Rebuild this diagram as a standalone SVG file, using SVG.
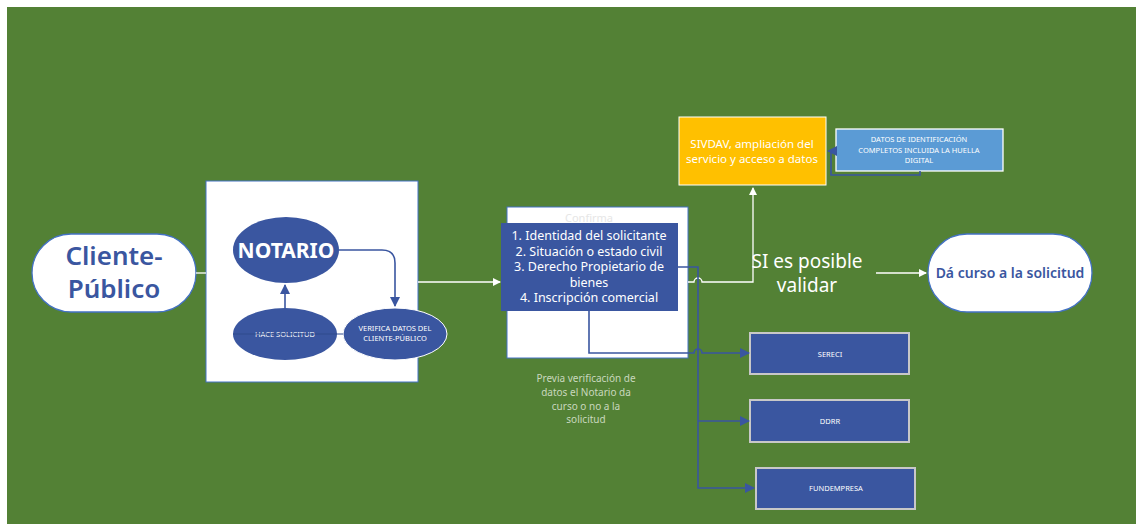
<svg xmlns="http://www.w3.org/2000/svg" width="1136" height="524" viewBox="0 0 1136 524">
<defs>
<style>
text{font-family:"Noto Sans","Liberation Sans",sans-serif;text-anchor:middle}
.wt{fill:#ffffff}
.bt{fill:#3A56A0}
.blue{fill:#3A56A0}
.svc{fill:#3A56A0;stroke:#C8C8C8;stroke-width:2}
.wl{stroke:#ffffff;stroke-width:1.3;fill:none}
.bl{stroke:#3A56A0;stroke-width:1.6;fill:none}
</style>
<marker id="aw" markerWidth="8" markerHeight="8" refX="7" refY="4" orient="auto" markerUnits="userSpaceOnUse"><path d="M0,0 L8,4 L0,8 Z" fill="#ffffff"/></marker>
<marker id="ab" markerWidth="10" markerHeight="10" refX="9" refY="5" orient="auto" markerUnits="userSpaceOnUse"><path d="M0,0 L10,5 L0,10 Z" fill="#3A56A0"/></marker>
</defs>
<rect x="7" y="7" width="1129" height="517" fill="#538135"/>

<g id="cliente">
<rect x="32" y="234" width="164" height="78" rx="39" fill="#ffffff" stroke="#4472C4" stroke-width="1.3"/>
<text x="114" y="265" class="bt" font-size="26" font-weight="600">Cliente-</text>
<text x="114" y="298" class="bt" font-size="26" font-weight="600">Público</text>
</g>

<g id="notario-box">
<rect x="206" y="181" width="212" height="201" fill="#ffffff" stroke="#4472C4" stroke-width="1"/>
</g>

<g id="notario">
<ellipse cx="286" cy="250" rx="53" ry="33" class="blue"/>
<text x="286" y="258" class="wt" font-size="21" font-weight="bold">NOTARIO</text>
</g>

<g id="hace-solicitud">
<ellipse cx="285" cy="334" rx="52" ry="26" class="blue"/>
<text x="285" y="337" class="wt" font-size="7.5">HACE SOLICITUD</text>
</g>

<g id="verifica">
<ellipse cx="395" cy="334" rx="52" ry="26" class="blue" stroke="#ffffff" stroke-width="1"/>
<text x="395" y="331" class="wt" font-size="7.5">VERIFICA DATOS DEL</text>
<text x="395" y="341" class="wt" font-size="7.5">CLIENTE-PÚBLICO</text>
</g>

<g id="confirma">
<rect x="507" y="207" width="181" height="151" fill="#ffffff" stroke="#4472C4" stroke-width="1"/>
<text x="589" y="222" font-size="11" fill="#E6E6E6">Confirma</text>
</g>

<g id="lista">
<rect x="501" y="223" width="177" height="88" class="blue"/>
<text x="589" y="240" class="wt" font-size="12.5">1. Identidad del solicitante</text>
<text x="589" y="256" class="wt" font-size="12.5">2. Situación o estado civil</text>
<text x="589" y="271" class="wt" font-size="12.5">3. Derecho Propietario de</text>
<text x="589" y="287" class="wt" font-size="12.5">bienes</text>
<text x="589" y="302" class="wt" font-size="12.5">4. Inscripción comercial</text>
</g>

<g id="nota">
<text x="586" y="382" font-size="10" fill="#C9D8BE">Previa verificación de</text>
<text x="586" y="396" font-size="10" fill="#C9D8BE">datos el Notario da</text>
<text x="586" y="410" font-size="10" fill="#C9D8BE">curso o no a la</text>
<text x="586" y="423" font-size="10" fill="#C9D8BE">solicitud</text>
</g>

<g id="sivdav">
<rect x="679" y="117" width="147" height="68" fill="#FFC000" stroke="#ffffff" stroke-width="1"/>
<text x="752" y="148" class="wt" font-size="11.5">SIVDAV, ampliación del</text>
<text x="752" y="163" class="wt" font-size="11.5">servicio y acceso a datos</text>
</g>

<g id="datos">
<rect x="836" y="129" width="167" height="42" fill="#5B9BD5" stroke="#ffffff" stroke-width="1.3"/>
<text x="919" y="142" class="wt" font-size="7.5">DATOS DE IDENTIFICACIÓN</text>
<text x="919" y="153" class="wt" font-size="7.5">COMPLETOS INCLUIDA LA HUELLA</text>
<text x="919" y="163" class="wt" font-size="7.5">DIGITAL</text>
</g>

<g id="si-validar">
<text x="807" y="268" class="wt" font-size="19">SI es posible</text>
<text x="807" y="292" class="wt" font-size="19">validar</text>
</g>

<g id="da-curso">
<rect x="928" y="234" width="164" height="78" rx="39" fill="#ffffff" stroke="#4472C4" stroke-width="1.3"/>
<text x="1010" y="278" class="bt" font-size="14" font-weight="600">Dá curso a la solicitud</text>
</g>

<g id="sereci">
<rect x="750" y="333" width="159" height="41" class="svc"/>
<text x="830" y="357" class="wt" font-size="7.5">SERECI</text>
</g>
<g id="ddrr">
<rect x="750" y="400" width="159" height="42" class="svc"/>
<text x="830" y="424" class="wt" font-size="7.5">DDRR</text>
</g>
<g id="fundempresa">
<rect x="756" y="468" width="159" height="41" class="svc"/>
<text x="836" y="491" class="wt" font-size="7.5">FUNDEMPRESA</text>
</g>

<g id="connectors">
<line x1="196" y1="273" x2="206" y2="273" class="wl"/>
<path d="M418,282 H500" class="wl" marker-end="url(#aw)"/>
<path d="M285,308 V285" class="bl" marker-end="url(#ab)"/>
<path d="M339,250 H382 Q395,250 395,263 V306" class="bl" marker-end="url(#ab)"/>
<line x1="233" y1="334" x2="343" y2="334" stroke="#2E4A8C" stroke-width="1"/>
<path d="M688,282 H694 A4,4 0 0 1 702,282 H753 V188" class="wl" marker-end="url(#aw)"/>
<path d="M876,273 H926" class="wl" marker-end="url(#aw)"/>
<path d="M920,171 V175 H831 V151 H828" class="bl" stroke-width="1.2" marker-end="url(#ab)"/>
<path d="M678,267 H698 V488 H754" class="bl" marker-end="url(#ab)"/>
<path d="M698,421 H749" class="bl" marker-end="url(#ab)"/>
<path d="M589,311 V353 H694 A4,4 0 0 1 702,353 H749" class="bl" marker-end="url(#ab)"/>
</g>
</svg>
